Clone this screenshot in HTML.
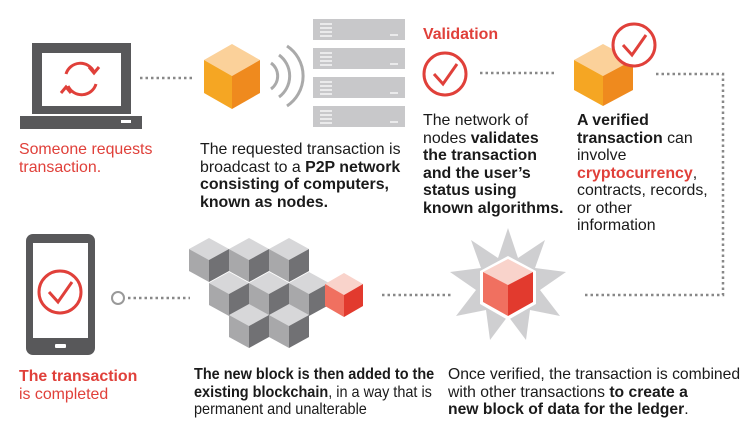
<!DOCTYPE html>
<html><head><style>
body{margin:0;width:750px;height:430px;background:#fff;position:relative;overflow:hidden;font-family:"Liberation Sans",sans-serif;}
.t{position:absolute;font-size:15.9px;line-height:17.5px;color:#1a1a1a;white-space:nowrap;}
.r{color:#e0403a;}
b{font-weight:bold;}
</style></head><body>
<svg width="750" height="430" style="position:absolute;left:0;top:0">
<defs>
<g id="gc"><polygon points="0,-22 20,-11 0,0 -20,-11" fill="#d7d7d9"/><polygon points="-20,-11 0,0 0,22 -20,11" fill="#a8a8aa"/><polygon points="20,-11 0,0 0,22 20,11" fill="#717174"/></g>
</defs>
<rect x="32" y="43" width="99" height="71" fill="#58585a"/>
<rect x="42" y="53" width="79" height="53" fill="#fff"/>
<rect x="20" y="116" width="122" height="13" fill="#58585a"/>
<rect x="121" y="120" width="10" height="3" fill="#fff"/>
<path d="M66,74 A15,15 0 0 1 94,72" stroke="#e0403a" stroke-width="3" fill="none"/>
<path d="M96,84 A15,15 0 0 1 68,86" stroke="#e0403a" stroke-width="3" fill="none"/>
<polyline points="89,67 94,73 99,67" stroke="#e0403a" stroke-width="3" fill="none"/>
<polyline points="61,93 66,87 71,93" stroke="#e0403a" stroke-width="3" fill="none"/>
<line x1="140" y1="78" x2="195" y2="78" stroke="#888" stroke-width="2.5" stroke-dasharray="2.5,3"/>
<polygon points="232,44 260,60 232,76 204,60" fill="#fbd19a"/>
<polygon points="204,60 232,76 232,109 204,93" fill="#f5a623"/>
<polygon points="260,60 232,76 232,109 260,93" fill="#ef8a1e"/>
<path d="M271,63 A16,16 0 0 1 271,89" stroke="#aaa" stroke-width="3" fill="none"/>
<path d="M279,55 A26,26 0 0 1 279,97" stroke="#aaa" stroke-width="3" fill="none"/>
<path d="M287,46 A36,36 0 0 1 287,106" stroke="#aaa" stroke-width="3" fill="none"/>
<g fill="#c8c8ca">
<rect x="313" y="19" width="92" height="21"/><rect x="313" y="48" width="92" height="21"/><rect x="313" y="77" width="92" height="21"/><rect x="313" y="106" width="92" height="21"/>
</g>
<g stroke="#fff" stroke-width="1.3">
<path d="M320,24h12M320,28h12M320,32h12M320,36h12M390,35h8"/>
<path d="M320,53h12M320,57h12M320,61h12M320,65h12M390,64h8"/>
<path d="M320,82h12M320,86h12M320,90h12M320,94h12M390,93h8"/>
<path d="M320,111h12M320,115h12M320,119h12M320,123h12M390,122h8"/>
</g>
<circle cx="445" cy="74" r="21" stroke="#e0403a" stroke-width="3" fill="none"/>
<polyline points="434,74 443,84 457,64" stroke="#e0403a" stroke-width="3" fill="none"/>
<line x1="480" y1="73" x2="555" y2="73" stroke="#888" stroke-width="2.5" stroke-dasharray="2.5,3"/>
<polygon points="603,44 633,60 603,76 574,60" fill="#fbd19a"/>
<polygon points="574,60 603,76 603,106 574,90" fill="#f5a623"/>
<polygon points="633,60 603,76 603,106 633,90" fill="#ef8a1e"/>
<circle cx="634" cy="45" r="21" stroke="#e0403a" stroke-width="3" fill="#fff"/>
<polyline points="623,45 632,55 646,35" stroke="#e0403a" stroke-width="3" fill="none"/>
<polyline points="656,74 723,74 723,295 585,295" stroke="#888" stroke-width="2.5" stroke-dasharray="2.5,3" fill="none"/>
<polygon points="508,228 518,258 545,240 535,268 566,272 540,290 560,316 530,310 526,340 508,316 490,340 486,310 456,316 476,290 450,272 481,268 471,240 498,258" fill="#cfcfd1"/>
<polygon points="508,256 536,271 536,304 508,320 480,304 480,271" fill="#fff"/>
<polygon points="508,259 533,272 508,285 483,272" fill="#f9d3cb"/>
<polygon points="483,272 508,285 508,316 483,302" fill="#f07060"/>
<polygon points="533,272 508,285 508,316 533,302" fill="#e23a2e"/>
<line x1="382" y1="295" x2="452" y2="295" stroke="#888" stroke-width="2.5" stroke-dasharray="2.5,3"/>
<use href="#gc" x="209" y="260"/><use href="#gc" x="249" y="260"/><use href="#gc" x="289" y="260"/>
<use href="#gc" x="229" y="294"/><use href="#gc" x="269" y="294"/><use href="#gc" x="309" y="294"/>
<use href="#gc" x="249" y="326"/><use href="#gc" x="289" y="326"/>
<polygon points="344,273 363,284 344,295 325,284" fill="#f9d3cb"/>
<polygon points="325,284 344,295 344,317 325,306" fill="#f07060"/>
<polygon points="363,284 344,295 344,317 363,306" fill="#e23a2e"/>
<line x1="128" y1="298" x2="190" y2="298" stroke="#888" stroke-width="2.5" stroke-dasharray="2.5,3"/>
<circle cx="118" cy="298" r="6" stroke="#999" stroke-width="2" fill="#fff"/>
<rect x="26" y="234" width="69" height="121" rx="7" fill="#58585a"/>
<rect x="33" y="243" width="55" height="95" fill="#fff"/>
<rect x="55" y="344" width="11" height="4" rx="1" fill="#fff"/>
<circle cx="60" cy="292" r="21" stroke="#e0403a" stroke-width="3" fill="none"/>
<polyline points="49,292 58,302 72,282" stroke="#e0403a" stroke-width="3" fill="none"/>
</svg>
<div class="t r" style="left:19px;top:141px;">Someone requests<br>transaction.</div>
<div class="t" style="left:200px;top:141px;">The requested transaction is<br>broadcast to a <b>P2P network<br>consisting of computers,<br>known as nodes.</b></div>
<div class="t r" style="left:423px;top:26px;font-weight:bold;">Validation</div>
<div class="t" style="left:423px;top:112px;">The network of<br>nodes <b>validates<br>the transaction<br>and the user’s<br>status using<br>known algorithms.</b></div>
<div class="t" style="left:577px;top:112px;"><b>A verified<br>transaction</b> can<br>involve<br><b class="r">cryptocurrency</b>,<br>contracts, records,<br>or other<br>information</div>
<div class="t r" style="left:19px;top:368px;"><b>The transaction</b><br>is completed</div>
<div class="t" style="left:194px;top:366px;transform:scaleX(0.91);transform-origin:0 0;"><b>The new block is then added to the<br>existing blockchain</b>, in a way that is<br>permanent and unalterable</div>
<div class="t" style="left:448px;top:366px;font-size:15.7px;">Once verified, the transaction is combined<br>with other transactions <b>to create a<br>new block of data for the ledger</b>.</div>
</body></html>
